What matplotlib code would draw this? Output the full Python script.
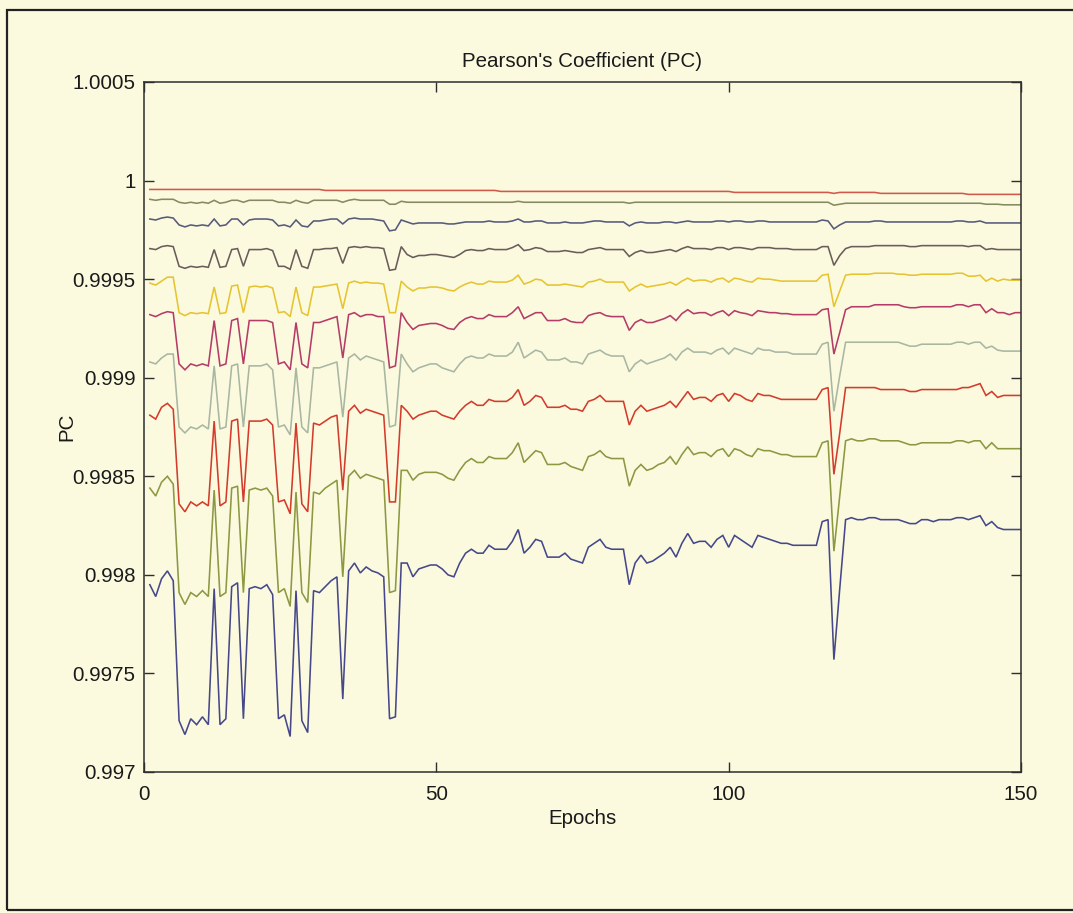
import numpy as np
import matplotlib
matplotlib.use("Agg")
import matplotlib.pyplot as plt
from matplotlib.patches import Rectangle

plt.rcParams['font.family'] = ['Liberation Sans', 'DejaVu Sans']

epochs = np.arange(1, 151)

pc_1 = [
    0.999955, 0.999955, 0.999955, 0.999955, 0.999955, 0.999955, 0.999955, 0.999955, 0.999955, 0.999955,
    0.999955, 0.999955, 0.999955, 0.999955, 0.999955, 0.999955, 0.999955, 0.999955, 0.999955, 0.999955,
    0.999955, 0.999955, 0.999955, 0.999955, 0.999955, 0.999955, 0.999955, 0.999955, 0.999955, 0.999955,
    0.99995, 0.99995, 0.99995, 0.99995, 0.99995, 0.99995, 0.99995, 0.99995, 0.99995, 0.99995,
    0.99995, 0.99995, 0.99995, 0.99995, 0.99995, 0.99995, 0.99995, 0.99995, 0.99995, 0.99995,
    0.99995, 0.99995, 0.99995, 0.99995, 0.99995, 0.99995, 0.99995, 0.99995, 0.99995, 0.99995,
    0.999945, 0.999945, 0.999945, 0.999945, 0.999945, 0.999945, 0.999945, 0.999945, 0.999945, 0.999945,
    0.999945, 0.999945, 0.999945, 0.999945, 0.999945, 0.999945, 0.999945, 0.999945, 0.999945, 0.999945,
    0.999945, 0.999945, 0.999945, 0.999945, 0.999945, 0.999945, 0.999945, 0.999945, 0.999945, 0.999945,
    0.999945, 0.999945, 0.999945, 0.999945, 0.999945, 0.999945, 0.999945, 0.999945, 0.999945, 0.999945,
    0.99994, 0.99994, 0.99994, 0.99994, 0.99994, 0.99994, 0.99994, 0.99994, 0.99994, 0.99994,
    0.99994, 0.99994, 0.99994, 0.99994, 0.99994, 0.99994, 0.99994, 0.999935, 0.99994, 0.99994,
    0.99994, 0.99994, 0.99994, 0.99994, 0.99994, 0.999935, 0.999935, 0.999935, 0.999935, 0.999935,
    0.999935, 0.999935, 0.999935, 0.999935, 0.999935, 0.999935, 0.999935, 0.999935, 0.999935, 0.999935,
    0.99993, 0.99993, 0.99993, 0.99993, 0.99993, 0.99993, 0.99993, 0.99993, 0.99993, 0.99993,
]

pc_2 = [
    0.999905, 0.99990, 0.999905, 0.999905, 0.999905, 0.99989, 0.999885, 0.99989, 0.999885, 0.99989,
    0.999885, 0.99990, 0.999885, 0.99989, 0.99990, 0.99990, 0.99989, 0.99990, 0.99990, 0.99990,
    0.99990, 0.99990, 0.99989, 0.99989, 0.999885, 0.99990, 0.99989, 0.999885, 0.99990, 0.99990,
    0.99990, 0.99990, 0.99990, 0.99989, 0.99990, 0.999905, 0.99990, 0.99990, 0.99990, 0.99990,
    0.99990, 0.99988, 0.99988, 0.999895, 0.99989, 0.99989, 0.99989, 0.99989, 0.99989, 0.99989,
    0.99989, 0.99989, 0.99989, 0.99989, 0.99989, 0.99989, 0.99989, 0.99989, 0.99989, 0.99989,
    0.99989, 0.99989, 0.99989, 0.999895, 0.99989, 0.99989, 0.99989, 0.99989, 0.99989, 0.99989,
    0.99989, 0.99989, 0.99989, 0.99989, 0.99989, 0.99989, 0.99989, 0.99989, 0.99989, 0.99989,
    0.99989, 0.99989, 0.999885, 0.99989, 0.99989, 0.99989, 0.99989, 0.99989, 0.99989, 0.99989,
    0.99989, 0.99989, 0.99989, 0.99989, 0.99989, 0.99989, 0.99989, 0.99989, 0.99989, 0.99989,
    0.99989, 0.99989, 0.99989, 0.99989, 0.99989, 0.99989, 0.99989, 0.99989, 0.99989, 0.99989,
    0.99989, 0.99989, 0.99989, 0.99989, 0.99989, 0.99989, 0.99989, 0.999875, 0.99988, 0.999885,
    0.999885, 0.999885, 0.999885, 0.999885, 0.999885, 0.999885, 0.999885, 0.999885, 0.999885, 0.999885,
    0.999885, 0.999885, 0.999885, 0.999885, 0.999885, 0.999885, 0.999885, 0.999885, 0.999885, 0.999885,
    0.999885, 0.999885, 0.999885, 0.99988, 0.99988, 0.99988, 0.999877, 0.999877, 0.999877, 0.999877,
]

pc_3 = [
    0.999805, 0.99980, 0.99981, 0.999815, 0.99981, 0.999775, 0.999765, 0.999775, 0.99977, 0.999775,
    0.99977, 0.999805, 0.99977, 0.999775, 0.999805, 0.999805, 0.999775, 0.99980, 0.999805, 0.999805,
    0.999805, 0.99980, 0.99977, 0.999775, 0.999765, 0.99980, 0.99977, 0.999765, 0.999795, 0.999795,
    0.99980, 0.999805, 0.999805, 0.99978, 0.999805, 0.99981, 0.999805, 0.999805, 0.999805, 0.99980,
    0.999795, 0.999745, 0.99975, 0.99980, 0.99979, 0.99978, 0.999785, 0.999785, 0.999785, 0.999785,
    0.999785, 0.99978, 0.99978, 0.999785, 0.99979, 0.99979, 0.99979, 0.99979, 0.999795, 0.99979,
    0.99979, 0.99979, 0.999795, 0.999805, 0.99979, 0.99979, 0.999795, 0.999795, 0.999785, 0.999785,
    0.999785, 0.99979, 0.999785, 0.999785, 0.999785, 0.99979, 0.999795, 0.999795, 0.99979, 0.99979,
    0.99979, 0.99979, 0.99977, 0.999785, 0.99979, 0.999785, 0.999785, 0.999785, 0.99979, 0.99979,
    0.999785, 0.99979, 0.999795, 0.99979, 0.99979, 0.99979, 0.99979, 0.999795, 0.999795, 0.99979,
    0.999795, 0.999795, 0.99979, 0.99979, 0.999795, 0.999795, 0.99979, 0.99979, 0.99979, 0.99979,
    0.99979, 0.99979, 0.99979, 0.99979, 0.99979, 0.99980, 0.999795, 0.999755, 0.999775, 0.99979,
    0.99979, 0.99979, 0.99979, 0.99979, 0.999795, 0.999795, 0.99979, 0.99979, 0.99979, 0.99979,
    0.99979, 0.99979, 0.99979, 0.99979, 0.99979, 0.99979, 0.99979, 0.99979, 0.999795, 0.999795,
    0.99979, 0.99979, 0.999795, 0.999785, 0.999785, 0.999785, 0.999785, 0.999785, 0.999785, 0.999785,
]

pc_4 = [
    0.999655, 0.99965, 0.999665, 0.99967, 0.999665, 0.999565, 0.999555, 0.999565, 0.99956, 0.999565,
    0.99956, 0.99965, 0.99956, 0.999565, 0.99965, 0.999655, 0.999565, 0.99965, 0.99965, 0.99965,
    0.999655, 0.999645, 0.999565, 0.999565, 0.99955, 0.99965, 0.999565, 0.999555, 0.99965, 0.99965,
    0.999655, 0.999655, 0.99966, 0.99958, 0.99966, 0.999665, 0.99966, 0.999665, 0.99966, 0.99966,
    0.999655, 0.999545, 0.99955, 0.999665, 0.999625, 0.99961, 0.99962, 0.99962, 0.999625, 0.999625,
    0.99962, 0.999615, 0.99961, 0.999625, 0.999645, 0.99965, 0.999645, 0.999645, 0.999655, 0.99965,
    0.99965, 0.99965, 0.99966, 0.999675, 0.999645, 0.99965, 0.99966, 0.999655, 0.99964, 0.99964,
    0.99964, 0.999645, 0.99964, 0.999635, 0.999635, 0.99965, 0.999655, 0.99966, 0.99965, 0.99965,
    0.99965, 0.99965, 0.999615, 0.999635, 0.999645, 0.999635, 0.999635, 0.99964, 0.999645, 0.99965,
    0.99964, 0.999655, 0.999665, 0.999655, 0.999655, 0.999655, 0.99965, 0.99966, 0.99966, 0.99965,
    0.99966, 0.99966, 0.999655, 0.99965, 0.99966, 0.99966, 0.99966, 0.999655, 0.999655, 0.999655,
    0.99965, 0.99965, 0.99965, 0.99965, 0.99965, 0.999665, 0.999665, 0.99957, 0.99962, 0.999655,
    0.999665, 0.999665, 0.999665, 0.999665, 0.99967, 0.99967, 0.99967, 0.99967, 0.99967, 0.99967,
    0.999665, 0.999665, 0.99967, 0.99967, 0.99967, 0.99967, 0.99967, 0.99967, 0.99967, 0.99967,
    0.999665, 0.99967, 0.99967, 0.99965, 0.999655, 0.99965, 0.99965, 0.99965, 0.99965, 0.99965,
]

pc_5 = [
    0.99948, 0.99947, 0.99949, 0.99951, 0.99951, 0.99933, 0.999315, 0.99933, 0.999325, 0.99933,
    0.999325, 0.99946, 0.999325, 0.99933, 0.999465, 0.99947, 0.99933, 0.99946, 0.999465, 0.99946,
    0.999465, 0.999455, 0.99933, 0.999335, 0.99931, 0.99946, 0.99933, 0.999315, 0.99946, 0.99946,
    0.999465, 0.99947, 0.999475, 0.99935, 0.99948, 0.99949, 0.99948, 0.999485, 0.99948, 0.99948,
    0.999475, 0.99933, 0.99933, 0.99949, 0.99946, 0.99944, 0.999455, 0.999455, 0.99946, 0.99946,
    0.999455, 0.999445, 0.99944, 0.99946, 0.999475, 0.999485, 0.999475, 0.999475, 0.99949, 0.999485,
    0.999485, 0.999485, 0.999495, 0.99952, 0.999475, 0.999485, 0.99950, 0.999495, 0.99947, 0.99947,
    0.99947, 0.999475, 0.99947, 0.999465, 0.99946, 0.999485, 0.99949, 0.99950, 0.999485, 0.999485,
    0.999485, 0.999485, 0.99944, 0.99946, 0.999475, 0.99946, 0.999465, 0.99947, 0.999475, 0.999485,
    0.99947, 0.99949, 0.999505, 0.99949, 0.999495, 0.999495, 0.999485, 0.99950, 0.999505, 0.999485,
    0.999505, 0.99950, 0.99949, 0.999485, 0.999505, 0.99950, 0.99950, 0.999495, 0.99949, 0.99949,
    0.99949, 0.99949, 0.99949, 0.99949, 0.99949, 0.99952, 0.999525, 0.99936, 0.99944, 0.99952,
    0.999525, 0.999525, 0.999525, 0.999525, 0.99953, 0.99953, 0.99953, 0.99953, 0.999525, 0.999525,
    0.99952, 0.99952, 0.999525, 0.999525, 0.999525, 0.999525, 0.999525, 0.999525, 0.99953, 0.99953,
    0.999515, 0.999515, 0.99952, 0.99949, 0.999505, 0.99949, 0.99950, 0.999495, 0.999495, 0.999495,
]

pc_6 = [
    0.99932, 0.99931, 0.999325, 0.999335, 0.99933, 0.99907, 0.99904, 0.99907, 0.99906, 0.99907,
    0.99906, 0.99929, 0.99906, 0.99907, 0.99929, 0.99930, 0.99907, 0.99929, 0.99929, 0.99929,
    0.99929, 0.99928, 0.99907, 0.99908, 0.99904, 0.99928, 0.99907, 0.99905, 0.99928, 0.99928,
    0.99929, 0.99930, 0.99931, 0.99910, 0.99932, 0.99933, 0.99931, 0.99932, 0.99932, 0.99931,
    0.99931, 0.99905, 0.99906, 0.99933, 0.99928, 0.999245, 0.999265, 0.99927, 0.999275, 0.999275,
    0.999265, 0.99925, 0.999245, 0.99928, 0.99930, 0.99931, 0.99930, 0.99930, 0.99932, 0.99931,
    0.99931, 0.99931, 0.99933, 0.99936, 0.99930, 0.999315, 0.99933, 0.99933, 0.99929, 0.99929,
    0.99929, 0.99930, 0.999285, 0.99928, 0.99928, 0.999315, 0.999325, 0.99933, 0.999315, 0.99931,
    0.99931, 0.99931, 0.99924, 0.99928, 0.999295, 0.99928, 0.99928, 0.99929, 0.99930, 0.999315,
    0.99929, 0.999325, 0.999345, 0.999325, 0.99933, 0.99933, 0.999315, 0.99933, 0.99934, 0.999315,
    0.99934, 0.99933, 0.999325, 0.999315, 0.99934, 0.999335, 0.99933, 0.99933, 0.999325, 0.999325,
    0.99932, 0.99932, 0.99932, 0.99932, 0.99932, 0.999345, 0.99935, 0.99912, 0.99923, 0.999345,
    0.99936, 0.99936, 0.99936, 0.99936, 0.99937, 0.99937, 0.99937, 0.99937, 0.99937, 0.99936,
    0.999355, 0.999355, 0.99936, 0.99936, 0.99936, 0.99936, 0.99936, 0.99936, 0.99937, 0.99937,
    0.99936, 0.99937, 0.99937, 0.99933, 0.99935, 0.99933, 0.99933, 0.99932, 0.99933, 0.99933,
]

pc_7 = [
    0.99908, 0.99907, 0.99910, 0.99912, 0.99912, 0.99875, 0.99872, 0.99875, 0.99874, 0.99876,
    0.99874, 0.99906, 0.99874, 0.99875, 0.99906, 0.99907, 0.99875, 0.99906, 0.99906, 0.99906,
    0.99907, 0.99904, 0.99875, 0.99876, 0.99871, 0.99905, 0.99875, 0.99872, 0.99905, 0.99905,
    0.99906, 0.99907, 0.99908, 0.99880, 0.99910, 0.99912, 0.99909, 0.99911, 0.99910, 0.99909,
    0.99908, 0.99875, 0.99876, 0.99912, 0.99907, 0.99903, 0.99905, 0.99906, 0.99907, 0.99907,
    0.99905, 0.99904, 0.99903, 0.99907, 0.99910, 0.99911, 0.99910, 0.99910, 0.99912, 0.99911,
    0.99911, 0.99911, 0.99913, 0.99918, 0.99910, 0.99912, 0.99914, 0.99913, 0.99909, 0.99909,
    0.99909, 0.99910, 0.99908, 0.99908, 0.99907, 0.99912, 0.99913, 0.99914, 0.99912, 0.99911,
    0.99911, 0.99911, 0.99903, 0.99907, 0.99909, 0.99907, 0.99908, 0.99909, 0.99910, 0.99912,
    0.99909, 0.99913, 0.99915, 0.99913, 0.99913, 0.99913, 0.99912, 0.99914, 0.99915, 0.99912,
    0.99915, 0.99914, 0.99913, 0.99912, 0.99915, 0.99914, 0.99914, 0.99913, 0.99913, 0.99913,
    0.99912, 0.99912, 0.99912, 0.99912, 0.99912, 0.99917, 0.99918, 0.99883, 0.99901, 0.99918,
    0.99918, 0.99918, 0.99918, 0.99918, 0.99918, 0.99918, 0.99918, 0.99918, 0.99918, 0.99917,
    0.99916, 0.99916, 0.99917, 0.99917, 0.99917, 0.99917, 0.99917, 0.99917, 0.99918, 0.99918,
    0.99917, 0.99918, 0.99918, 0.99915, 0.99916, 0.99914, 0.999135, 0.999135, 0.999135, 0.999135,
]

pc_8 = [
    0.99881, 0.99879, 0.99885, 0.99887, 0.99884, 0.99836, 0.99832, 0.99837, 0.99835, 0.99837,
    0.99835, 0.99878, 0.99835, 0.99837, 0.99878, 0.99879, 0.99837, 0.99878, 0.99878, 0.99878,
    0.99879, 0.99876, 0.99837, 0.99838, 0.99831, 0.99877, 0.99836, 0.99832, 0.99877, 0.99876,
    0.99878, 0.99880, 0.99881, 0.99843, 0.99883, 0.99886, 0.99882, 0.99884, 0.99883, 0.99882,
    0.99881, 0.99837, 0.99837, 0.99886, 0.99883, 0.99879, 0.99881, 0.99882, 0.99883, 0.99883,
    0.99881, 0.99880, 0.99879, 0.99883, 0.99886, 0.99888, 0.99886, 0.99886, 0.99889, 0.99888,
    0.99888, 0.99888, 0.99890, 0.99894, 0.99886, 0.99888, 0.99891, 0.99890, 0.99885, 0.99885,
    0.99885, 0.99886, 0.99884, 0.99884, 0.99883, 0.99888, 0.99889, 0.99891, 0.99888, 0.99888,
    0.99888, 0.99888, 0.99876, 0.99883, 0.99886, 0.99883, 0.99884, 0.99885, 0.99886, 0.99888,
    0.99885, 0.99889, 0.99893, 0.99889, 0.99890, 0.99890, 0.99888, 0.99891, 0.99892, 0.99888,
    0.99892, 0.99891, 0.99889, 0.99888, 0.99892, 0.99891, 0.99891, 0.99890, 0.99889, 0.99889,
    0.99889, 0.99889, 0.99889, 0.99889, 0.99889, 0.99894, 0.99895, 0.99851, 0.99872, 0.99895,
    0.99895, 0.99895, 0.99895, 0.99895, 0.99895, 0.99894, 0.99894, 0.99894, 0.99894, 0.99894,
    0.99893, 0.99893, 0.99894, 0.99894, 0.99894, 0.99894, 0.99894, 0.99894, 0.99894, 0.99895,
    0.99895, 0.99896, 0.99897, 0.99891, 0.99893, 0.99890, 0.99891, 0.99891, 0.99891, 0.99891,
]

pc_9 = [
    0.99844, 0.99840, 0.99847, 0.99850, 0.99846, 0.99791, 0.99785, 0.99791, 0.99789, 0.99792,
    0.99789, 0.99843, 0.99789, 0.99791, 0.99844, 0.99845, 0.99791, 0.99843, 0.99844, 0.99843,
    0.99844, 0.99840, 0.99791, 0.99793, 0.99784, 0.99842, 0.99791, 0.99786, 0.99842, 0.99841,
    0.99844, 0.99846, 0.99848, 0.99799, 0.99850, 0.99853, 0.99849, 0.99851, 0.99850, 0.99849,
    0.99848, 0.99791, 0.99792, 0.99853, 0.99853, 0.99848, 0.99851, 0.99852, 0.99852, 0.99852,
    0.99851, 0.99849, 0.99848, 0.99853, 0.99857, 0.99859, 0.99857, 0.99857, 0.99860, 0.99859,
    0.99859, 0.99859, 0.99862, 0.99867, 0.99857, 0.99860, 0.99863, 0.99862, 0.99856, 0.99856,
    0.99856, 0.99857, 0.99855, 0.99854, 0.99853, 0.99860, 0.99861, 0.99863, 0.99860, 0.99859,
    0.99859, 0.99859, 0.99845, 0.99853, 0.99856, 0.99853, 0.99854, 0.99856, 0.99857, 0.99860,
    0.99856, 0.99861, 0.99865, 0.99861, 0.99862, 0.99862, 0.99860, 0.99863, 0.99864, 0.99860,
    0.99864, 0.99863, 0.99861, 0.99860, 0.99864, 0.99863, 0.99863, 0.99862, 0.99861, 0.99861,
    0.99860, 0.99860, 0.99860, 0.99860, 0.99860, 0.99867, 0.99868, 0.99812, 0.99840, 0.99868,
    0.99869, 0.99868, 0.99868, 0.99869, 0.99869, 0.99868, 0.99868, 0.99868, 0.99868, 0.99867,
    0.99866, 0.99866, 0.99867, 0.99867, 0.99867, 0.99867, 0.99867, 0.99867, 0.99868, 0.99868,
    0.99867, 0.99868, 0.99868, 0.99864, 0.99867, 0.99864, 0.99864, 0.99864, 0.99864, 0.99864,
]

pc_10 = [
    0.99795, 0.99789, 0.99798, 0.99802, 0.99797, 0.99726, 0.99719, 0.99727, 0.99724, 0.99728,
    0.99724, 0.99793, 0.99724, 0.99727, 0.99794, 0.99796, 0.99727, 0.99793, 0.99794, 0.99793,
    0.99795, 0.99790, 0.99727, 0.99729, 0.99718, 0.99792, 0.99726, 0.99720, 0.99792, 0.99791,
    0.99794, 0.99797, 0.99799, 0.99737, 0.99802, 0.99806, 0.99801, 0.99804, 0.99802, 0.99801,
    0.99799, 0.99727, 0.99728, 0.99806, 0.99806, 0.99799, 0.99803, 0.99804, 0.99805, 0.99805,
    0.99803, 0.99800, 0.99799, 0.99806, 0.99811, 0.99813, 0.99811, 0.99811, 0.99815, 0.99813,
    0.99813, 0.99813, 0.99817, 0.99823, 0.99811, 0.99814, 0.99818, 0.99817, 0.99809, 0.99809,
    0.99809, 0.99811, 0.99808, 0.99807, 0.99806, 0.99814, 0.99816, 0.99818, 0.99814, 0.99813,
    0.99813, 0.99813, 0.99795, 0.99806, 0.99810, 0.99806, 0.99807, 0.99809, 0.99811, 0.99814,
    0.99809, 0.99816, 0.99821, 0.99816, 0.99817, 0.99817, 0.99814, 0.99818, 0.99820, 0.99814,
    0.99820, 0.99818, 0.99816, 0.99814, 0.99820, 0.99819, 0.99818, 0.99817, 0.99816, 0.99816,
    0.99815, 0.99815, 0.99815, 0.99815, 0.99815, 0.99827, 0.99828, 0.99757, 0.99793, 0.99828,
    0.99829, 0.99828, 0.99828, 0.99829, 0.99829, 0.99828, 0.99828, 0.99828, 0.99828, 0.99827,
    0.99826, 0.99826, 0.99828, 0.99828, 0.99827, 0.99828, 0.99828, 0.99828, 0.99829, 0.99829,
    0.99828, 0.99829, 0.99830, 0.99825, 0.99827, 0.99824, 0.99823, 0.99823, 0.99823, 0.99823,
]

series = [pc_1, pc_2, pc_3, pc_4, pc_5, pc_6, pc_7, pc_8, pc_9, pc_10]
colors = ['#d2584c', '#868a62', '#575a7a', '#6a5c5a', '#e6c430',
          '#b53c68', '#a9b6a2', '#d33c2c', '#8c9842', '#46488a']

y_ticks = [0.997, 0.9975, 0.998, 0.9985, 0.999, 0.9995, 1.0, 1.0005]
y_tick_labels = ['0.997', '0.9975', '0.998', '0.9985', '0.999', '0.9995', '1', '1.0005']
x_ticks = [0, 50, 100, 150]
x_tick_labels = ['0', '50', '100', '150']

bg = '#fbfadf'
ink = '#2e2e2e'
W, H = 1073, 913

fig = plt.figure(figsize=(W / 100, H / 100), dpi=100, facecolor=bg)
ax = fig.add_axes([144 / W, 1 - 772 / H, (1021 - 144) / W, (772 - 82) / H])
ax.set_facecolor(bg)

for vals, col in zip(series, colors):
    ax.plot(epochs, vals, color=col, lw=1.15, solid_joinstyle='miter')

ax.set_xlim(0, 150)
ax.set_ylim(0.997, 1.0005)
ax.set_xticks(x_ticks)
ax.set_xticklabels(x_tick_labels)
ax.set_yticks(y_ticks)
ax.set_yticklabels(y_tick_labels)

fs = 14.8
ax.tick_params(direction='in', length=7, width=1.0, color=ink, labelcolor='#1a1a1a',
               labelsize=fs, top=True, right=True)
ax.tick_params(axis='x', pad=9)
ax.tick_params(axis='y', pad=6)
for sp in ax.spines.values():
    sp.set_color(ink)
    sp.set_linewidth(1.1)

ax.set_title("Pearson's Coefficient (PC)", fontsize=fs, color='#1a1a1a', pad=11)
ax.set_xlabel('Epochs', fontsize=fs, color='#1a1a1a')
ax.set_ylabel('PC', fontsize=fs, color='#1a1a1a')
ax.xaxis.set_label_coords(0.5, -(809 - 772) / (772 - 82))
ax.yaxis.set_label_coords(-(144 - 76) / (1021 - 144), 0.5)

# page frame around the figure
fig.add_artist(Rectangle((7 / W, 3 / H), 1.2, (910 - 10) / H, transform=fig.transFigure,
                         fill=False, edgecolor='#222222', lw=1.6))

fig.savefig('out.png', dpi=100, facecolor=bg)
